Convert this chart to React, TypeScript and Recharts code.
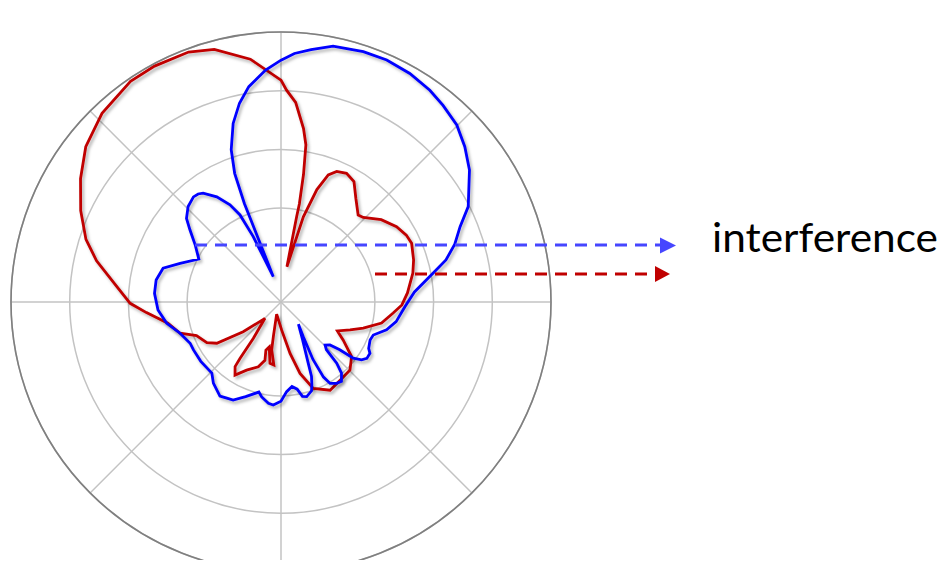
import React from 'react';
import { RadarChart, Radar, PolarGrid, PolarAngleAxis, PolarRadiusAxis } from 'recharts';

// Directions in degrees (0 = up, clockwise); gains in dB relative to the peak.
const redAngles = [0, 1.5, 4.2, 7.4, 9.0, 10.0, 10.6, 10.4, 9.5, 14.7, 17.7, 20.4, 23.1, 27, 31.2, 35.8, 41.6, 44.2, 50.6, 56.9, 61.9, 65.8, 72.4, 77.6, 85.9, 91.4, 95.6, 101.8, 107.6, 112, 117.2, 121.4, 127.7, 134.6, 142.9, 150.9, 159.5, 165.1, 170, 178.6, 199.7, 192.5, 191, 186.5, 190.2, 194.7, 197.4, 195.4, 199.3, 206.8, 212.2, 215.4, 216, 217.3, 224.5, 231.8, 237.3, 241.3, 248.3, 252.8, 259.4, 265.5, 269.5, 275.6, 282.6, 287.8, 294.5, 301.6, 308.5, 316.5, 325.7, 331.8, 339.7, 345.2, 352.8];
const redGain = [-8.2, -9.9, -11.9, -16.2, -18.9, -23.9, -29.0, -31.2, -39.9, -31.0, -25.9, -22.9, -21.8, -21.4, -22.0, -24.2, -26.2, -25.9, -23.9, -22.5, -21.8, -21.6, -22.3, -23.0, -24.4, -25.4, -26.8, -28.5, -31.3, -33.3, -35.2, -33.6, -30.8, -29.5, -29.3, -28.8, -30.3, -33.4, -37.1, -41.2, -43.8, -40.0, -37.7, -35.2, -35.4, -38.1, -37.4, -35.7, -34.3, -33.0, -31.3, -32.5, -34.1, -38.2, -42.1, -37.8, -33.0, -31.6, -30.5, -28.0, -26.4, -23.0, -20.3, -17.8, -13.8, -11.1, -8.5, -5.9, -3.5, -1.7, -0.5, -0.4, -0.6, -1.5, -4.3];

const blueAngles = [0, 3.1, 6.8, 11.5, 18.2, 23.6, 29.4, 35.1, 39.5, 44.8, 49.8, 55, 63, 67.2, 71.6, 75.7, 79.2, 85.7, 92.3, 99.7, 104.8, 109.7, 113.1, 117.9, 120, 123.3, 125.7, 127.9, 129.1, 131.3, 134.3, 136.4, 137.7, 139.6, 142.7, 145.6, 148.9, 150.5, 150.9, 147.3, 141.8, 150, 156, 157.7, 159.5, 161, 164.8, 167.2, 169.5, 172.6, 176.4, 180, 184.3, 187.1, 191.5, 193.8, 200.5, 206, 209.4, 213, 219.8, 224.2, 233.5, 241.3, 245.6, 252.8, 259.4, 266.3, 273.9, 280, 286, 290.9, 297.6, 303.5, 308.4, 311.5, 315.8, 320.2, 322.5, 324.4, 328.6, 332.3, 334.8, 337, 338.7, 343, 341.2, 340.2, 339.6, 340.2, 341.9, 345, 348.2, 351.5, 356.2];
const blueGain = [-4.8, -3.6, -2.7, -1.5, -1.1, -1.0, -1.3, -1.9, -2.6, -3.5, -5.0, -6.8, -10.2, -12.9, -14.8, -17.0, -19.6, -23.2, -24.9, -26.1, -27.4, -29.3, -29.5, -29.1, -28.5, -28.5, -29.1, -30.4, -33.1, -34.9, -35.5, -34.8, -31.9, -30.1, -29.0, -29.2, -29.8, -31.3, -34.8, -39.0, -41.2, -38.7, -34.6, -32.3, -31.0, -30.0, -29.3, -29.5, -30.9, -31.5, -30.7, -29.1, -28.4, -28.6, -29.5, -30.2, -28.8, -27.4, -27.2, -26.9, -28.0, -29.1, -29.0, -29.0, -29.0, -28.0, -26.2, -25.0, -24.4, -24.4, -25.1, -27.6, -30.2, -28.5, -26.2, -24.5, -23.3, -22.7, -22.8, -23.2, -25.0, -27.3, -29.6, -33.9, -37.7, -41.5, -38.4, -33.9, -28.1, -22.7, -18.7, -14.5, -11.4, -8.9, -6.4];

const spokeAngles = [0, 45, 90, 135, 180, 225, 270, 315];
const ringLevels = [-30, -20, -10, 0];
const gainDomain: [number, number] = [-46, 0];
const angleDomain: [number, number] = [0, 360];
const labelText = 'interference';

const redData = redAngles.map((a, i) => ({ angle: a, gain: redGain[i] }));
const blueData = blueAngles.map((a, i) => ({ angle: a, gain: blueGain[i] }));

const W = 931;
const H = 552;
const CX = 273;
const CY = 294;
const R = 270;
const noMargin = { top: 0, right: 0, bottom: 0, left: 0 };

export default function App() {
  return (
    <div style={{ position: 'relative', width: W, height: H }}>
      <style>{`.recharts-radar path { filter: url(#curveShadow); }`}</style>
      <div style={{ position: 'absolute', left: 0, top: 0 }}>
        <RadarChart width={W} height={H} cx={CX} cy={CY} outerRadius={R} data={redData} margin={noMargin}>
          <PolarGrid gridType="circle" stroke="#c3c3c3" strokeWidth={1.5} />
          <PolarAngleAxis
            dataKey="angle"
            type="number"
            domain={angleDomain}
            ticks={spokeAngles}
            tick={false}
            tickLine={false}
            axisLineType="circle"
            axisLine={{ stroke: '#7f7f7f', strokeWidth: 1.6 }}
          />
          <PolarRadiusAxis type="number" domain={gainDomain} ticks={ringLevels} tick={false} axisLine={false} />
          <Radar dataKey="gain" stroke="#c00000" strokeWidth={2.8} fill="none" fillOpacity={0} dot={false} isAnimationActive={false} />
        </RadarChart>
      </div>
      <div style={{ position: 'absolute', left: 0, top: 0 }}>
        <RadarChart width={W} height={H} cx={CX} cy={CY} outerRadius={R} data={blueData} margin={noMargin}>
          <PolarAngleAxis dataKey="angle" type="number" domain={angleDomain} ticks={spokeAngles} tick={false} tickLine={false} axisLine={false} />
          <PolarRadiusAxis type="number" domain={gainDomain} ticks={ringLevels} tick={false} axisLine={false} />
          <Radar dataKey="gain" stroke="#0000ff" strokeWidth={2.8} fill="none" fillOpacity={0} dot={false} isAnimationActive={false} />
        </RadarChart>
      </div>
      <svg width={W} height={H} style={{ position: 'absolute', left: 0, top: 0, overflow: 'visible' }}>
        <defs>
          <filter id="curveShadow" x="-10%" y="-10%" width="125%" height="125%">
            <feDropShadow dx="2" dy="2.5" stdDeviation="1.6" floodColor="#000" floodOpacity="0.3" />
          </filter>
        </defs>
        <line x1={187} y1={237} x2={653} y2={237} stroke="#4646ff" strokeWidth={3} strokeDasharray="12 8" />
        <polygon points="652,229.5 668,237.5 652,245.5" fill="#4646ff" />
        <line x1={367} y1={266} x2={648} y2={266} stroke="#c00000" strokeWidth={3} strokeDasharray="12 8" />
        <polygon points="647,258 662,266 647,274" fill="#c00000" />
        <text x={704} y={244} fontFamily="Lato, 'Open Sans', sans-serif" fontSize={40} fill="#000" textLength={226} lengthAdjust="spacingAndGlyphs">
          {labelText}
        </text>
      </svg>
    </div>
  );
}
